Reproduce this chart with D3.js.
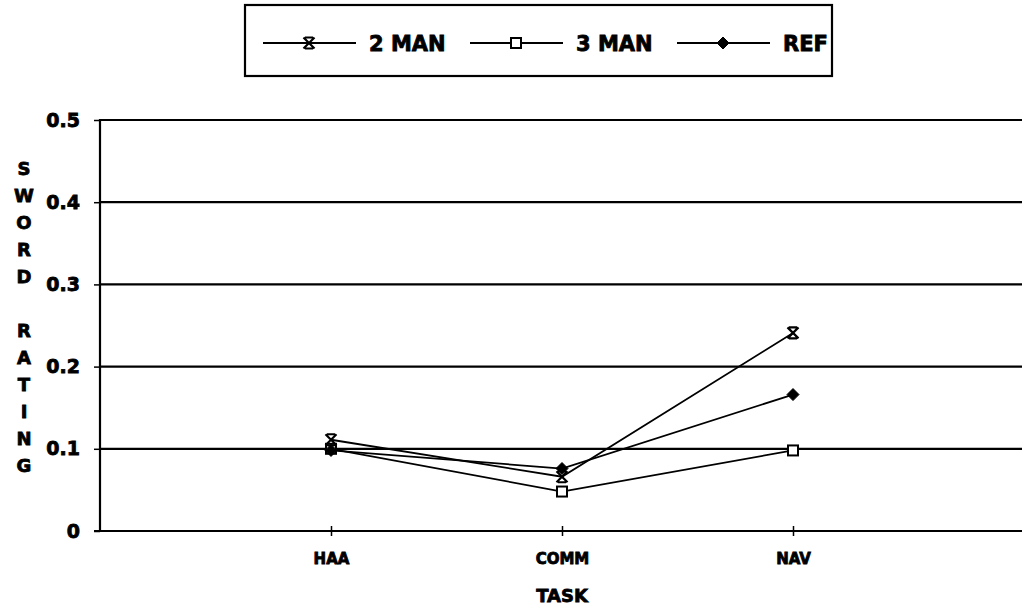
<!DOCTYPE html>
<html>
<head>
<meta charset="utf-8">
<script src="https://cdn.jsdelivr.net/npm/d3@7"></script>
<style>
  body { margin: 0; background: #fff; }
  text { font-family: "DejaVu Sans", Arial, sans-serif; font-weight: bold; fill: #000; stroke: #000; stroke-width: 0.8px; }
</style>
</head>
<body>
<svg id="chart" width="1022" height="612"></svg>
<script>

var tasks = ["HAA", "COMM", "NAV"];
var seriesNames = ["2 MAN", "3 MAN", "REF"];
var twoMan = [0.111, 0.066, 0.241];
var threeMan = [0.100, 0.048, 0.098];
var refVals = [0.098, 0.076, 0.166];
var yTicks = [0, 0.1, 0.2, 0.3, 0.4, 0.5];
var yTitle = ["S", "W", "O", "R", "D", "", "R", "A", "T", "I", "N", "G"];

var svg = d3.select("#chart");

var x = d3.scaleLinear().domain([0, tasks.length + 1]).range([100, 1024]);
var y = d3.scaleLinear().domain([0, 0.5]).range([531, 120]);

// grid lines
svg.selectAll("line.grid")
    .data(yTicks.slice(1))
    .enter().append("line")
    .attr("class", "grid")
    .attr("x1", x(0)).attr("x2", 1022)
    .attr("y1", function(d) { return y(d); })
    .attr("y2", function(d) { return y(d); })
    .style("stroke", "#000").style("stroke-width", 2.2);

// y axis
var yAxis = d3.axisLeft(y).tickValues(yTicks)
    .tickFormat(function(d) { return d === 0 ? "0" : d3.format(".1f")(d); })
    .tickSize(6).tickPadding(14);
var gy = svg.append("g").attr("transform", "translate(" + x(0) + ",0)").call(yAxis);
gy.select(".domain").attr("d", "M0," + y(0) + "V" + (y(0.5) - 1)).style("stroke-width", 2.2);
gy.selectAll(".tick line").style("stroke-width", 1.5);
gy.selectAll(".tick text").style("font-size", "19px").style("font-family", "DejaVu Sans").style("font-weight", "bold");

// x axis
var xAxis = d3.axisBottom(x).tickValues([1, 2, 3])
    .tickFormat(function(d) { return tasks[d - 1]; })
    .tickSize(5).tickPadding(17);
var gx = svg.append("g").attr("transform", "translate(0," + y(0) + ")").call(xAxis);
gx.select(".domain").attr("d", "M" + (x(0) - 6) + ",0H1022").style("stroke-width", 2.2);
gx.selectAll(".tick line").attr("y1", -5).style("stroke-width", 1.5);
gx.selectAll(".tick text").style("font-size", "15px").style("font-family", "DejaVu Sans").style("font-weight", "bold");

// axis titles
svg.append("text").attr("x", x(2)).attr("y", 602)
    .attr("text-anchor", "middle").style("font-size", "18px").text("TASK");

svg.selectAll("text.ytitle")
    .data(yTitle)
    .enter().append("text")
    .attr("class", "ytitle")
    .attr("x", 24)
    .attr("y", function(d, i) { return 175 + i * 27; })
    .attr("text-anchor", "middle")
    .style("font-size", "18px")
    .text(function(d) { return d; });

// markers
function drawMarker(g, kind, cx, cy) {
    if (kind === 0) {
        var s = 5.5;
        g.append("path")
            .attr("d", "M" + (cx - s) + "," + (cy - s) + "L" + (cx + s) + "," + (cy + s) +
                       "M" + (cx + s) + "," + (cy - s) + "L" + (cx - s) + "," + (cy + s) +
                       "M" + (cx - 4) + "," + (cy - s) + "L" + (cx + 4) + "," + (cy - s) +
                       "M" + (cx - 4) + "," + (cy + s) + "L" + (cx + 4) + "," + (cy + s))
            .style("stroke", "#000").style("stroke-width", 2.2).style("fill", "none");
    } else if (kind === 1) {
        g.append("rect")
            .attr("x", cx - 5).attr("y", cy - 5).attr("width", 10).attr("height", 10)
            .style("fill", "#fff").style("stroke", "#000").style("stroke-width", 2);
    } else {
        g.append("path")
            .attr("d", "M" + cx + "," + (cy - 6) + "L" + (cx + 6) + "," + cy + "L" + cx + "," + (cy + 6) + "L" + (cx - 6) + "," + cy + "Z")
            .style("fill", "#000").style("stroke", "#000").style("stroke-width", 1);
    }
}

var allSeries = [twoMan, threeMan, refVals];
var line = d3.line()
    .x(function(d, i) { return x(i + 1); })
    .y(function(d) { return y(d); });

var order = [1, 0, 2];
order.forEach(function(k) {
    svg.append("path").datum(allSeries[k])
        .attr("d", line)
        .style("fill", "none").style("stroke", "#000").style("stroke-width", 1.8);
});
order.forEach(function(k) {
    var g = svg.append("g");
    allSeries[k].forEach(function(v, i) { drawMarker(g, k, x(i + 1), y(v)); });
});

// legend
var legend = svg.append("g");
legend.append("rect")
    .attr("x", 245).attr("y", 5).attr("width", 587).attr("height", 71)
    .style("fill", "#fff").style("stroke", "#000").style("stroke-width", 2.2);
var legendX = [263, 470, 677];
seriesNames.forEach(function(name, k) {
    var lx = legendX[k];
    legend.append("line")
        .attr("x1", lx).attr("x2", lx + 93).attr("y1", 43).attr("y2", 43)
        .style("stroke", "#000").style("stroke-width", 1.8);
    drawMarker(legend, k, lx + 46, 43);
    legend.append("text")
        .attr("x", lx + 106).attr("y", 51)
        .style("font-size", "21px")
        .text(name);
});

</script>
</body>
</html>
